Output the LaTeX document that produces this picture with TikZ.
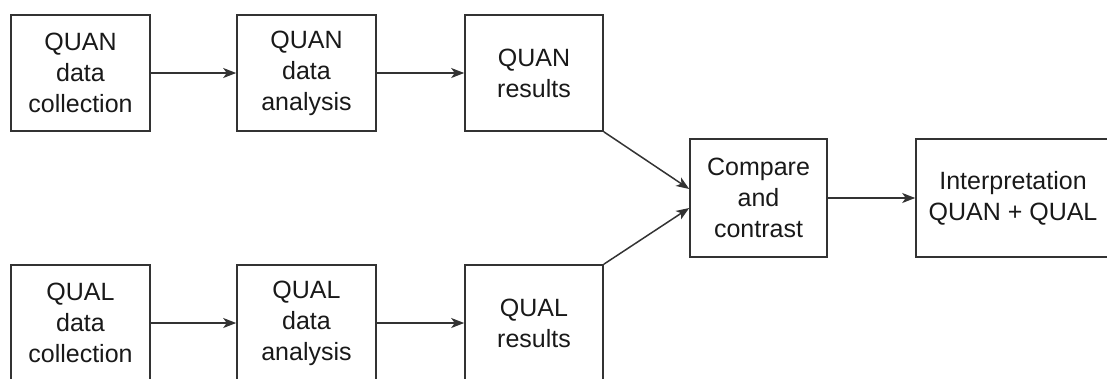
\documentclass[tikz,border=0pt]{standalone}
\usepackage{fontspec}
\setmainfont{Liberation Sans}
\usetikzlibrary{arrows.meta}
\begin{document}
\begin{tikzpicture}[x=1pt,y=-1pt,
  box/.style={draw=black!80, line width=1.6pt, minimum height=116pt, inner sep=0pt,
    align=center, text=black!90, font=\fontsize{25}{31}\selectfont},
  conn/.style={draw=black!80, line width=1.5pt, -{Stealth[length=13pt,width=10pt,inset=3.5pt]}}]
\useasboundingbox (0,0) rectangle (1107,378);
\clip (0,0) rectangle (1107,378);
\node[box, minimum width=139pt] (qnc) at (80.5,73) {QUAN\\data\\collection};
\node[box, minimum width=139pt] (qna) at (306.5,73) {QUAN\\data\\analysis};
\node[box, minimum width=138pt] (qnr) at (534,73) {QUAN\\results};
\node[box, minimum width=139pt] (qlc) at (80.5,323) {QUAL\\data\\collection};
\node[box, minimum width=139pt] (qla) at (306.5,323) {QUAL\\data\\analysis};
\node[box, minimum width=138pt] (qlr) at (534,323) {QUAL\\results};
\node[box, minimum width=137pt, minimum height=118pt] (cmp) at (758.5,198) {Compare\\and\\contrast};
\node[box, minimum width=194pt, minimum height=118pt] (int) at (1013,198) {Interpretation\\QUAN + QUAL};
\draw[conn] (qnc) -- (qna);
\draw[conn] (qna) -- (qnr);
\draw[conn] (qlc) -- (qla);
\draw[conn] (qla) -- (qlr);
\draw[conn] (qnr.south east) -- ([yshift=9pt]cmp.west);
\draw[conn] (qlr.north east) -- ([yshift=-10pt]cmp.west);
\draw[conn] (cmp) -- (int);
\end{tikzpicture}
\end{document}
